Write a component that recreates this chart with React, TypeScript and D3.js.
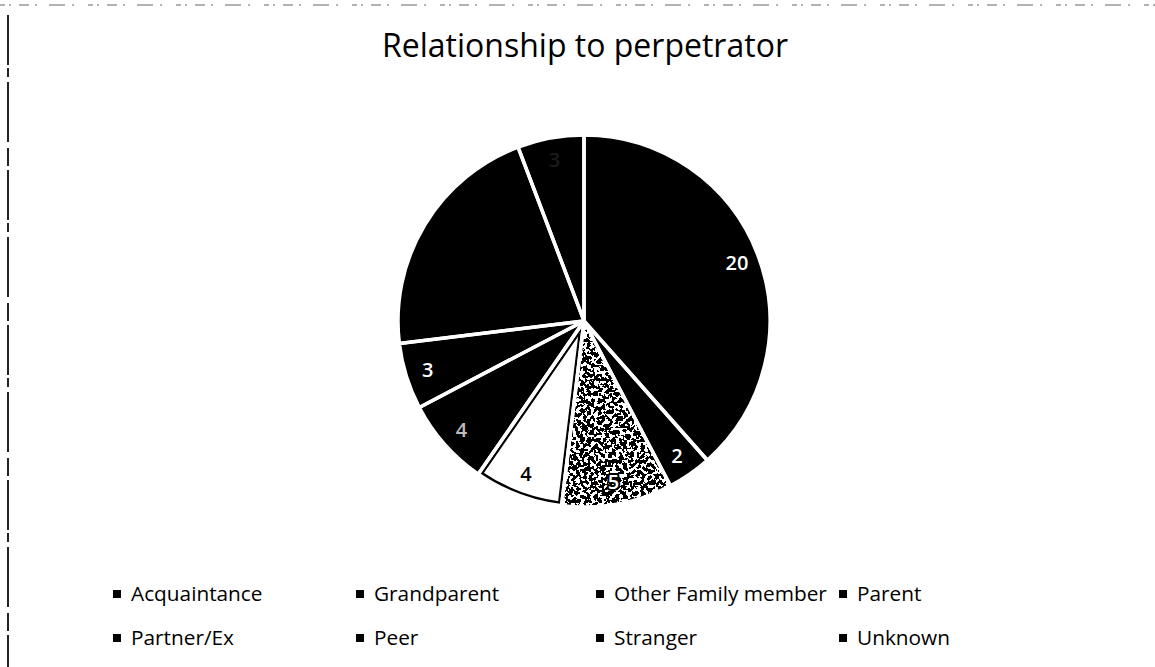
import React from "react";
import * as d3 from "d3";

const categories = [
  "Acquaintance",
  "Grandparent",
  "Other Family member",
  "Parent",
  "Partner/Ex",
  "Peer",
  "Stranger",
  "Unknown",
];
const counts = [20, 2, 5, 4, 4, 3, 11, 3];

// look of each slice in the scanned printout
const sliceFill = ["#000", "#000", "speckle", "white", "#000", "#000", "#000", "#000"];
const labelFill = ["#fff", "#fff", "#fff", "#000", "#bdbdbd", "#fff", "#000", "#1c1c1c"];

const W = 1155;
const H = 667;
const cx = 584;
const cy = 321;
const R = 186;
const font = "'Open Sans', 'Noto Sans', sans-serif";

export default function App() {
  const pie = d3
    .pie<number>()
    .value((d) => d)
    .sort(null);
  const slices = pie(counts);

  const arc = d3.arc<d3.PieArcDatum<number>>().innerRadius(0).outerRadius(R);
  const labelArc = d3
    .arc<d3.PieArcDatum<number>>()
    .innerRadius(R * 0.88)
    .outerRadius(R * 0.88);

  // legend: 4 columns, 2 rows
  const colX = d3.scaleOrdinal<number, number>().domain([0, 1, 2, 3]).range([117, 360, 600, 843]);
  const rowY = d3.scaleOrdinal<number, number>().domain([0, 1]).range([594, 638]);

  return (
    <svg
      width={W}
      height={H}
      style={{ position: "absolute", left: 0, top: 0, background: "#fff" }}
    >
      <defs>
        <filter id="speckle" x="0" y="0" width="100%" height="100%">
          <feTurbulence type="fractalNoise" baseFrequency="0.28" numOctaves="2" seed="7" result="noise" />
          <feColorMatrix
            in="noise"
            type="matrix"
            values="0 0 0 0 1  0 0 0 0 1  0 0 0 0 1  1.2 0 0 0 0"
            result="a"
          />
          <feComponentTransfer in="a" result="t">
            <feFuncA type="discrete" tableValues="0 0 0 0 0 1 1 1" />
          </feComponentTransfer>
          <feComposite in="t" in2="SourceGraphic" operator="in" />
        </filter>
        <clipPath id="parentClip">
          <path d={arc(slices[3]) || ""} transform={`translate(${cx},${cy})`} />
        </clipPath>
      </defs>

      {/* scan edges of the box */}
      <line x1={0} x2={W} y1={5} y2={5} stroke="#666" strokeWidth={1} strokeDasharray="5 4 2 8 10 6 2 12 16 7 2 14" />
      <line x1={8} x2={8} y1={15} y2={H} stroke="#222" strokeWidth={2} strokeDasharray="50 3 9 5 60 6 18 4" />

      <text
        x={585}
        y={57}
        textAnchor="middle"
        fontFamily={font}
        fontSize={32}
        fill="#000"
      >
        Relationship to perpetrator
      </text>

      <g transform={`translate(${cx},${cy})`}>
        {slices.map((s, i) => (
          <path key={"s" + i} d={arc(s) || ""} fill={sliceFill[i] === "speckle" ? "#000" : sliceFill[i]} />
        ))}
        {slices.map((s, i) =>
          sliceFill[i] === "speckle" ? (
            <path key={"sp" + i} d={arc(s) || ""} fill="#fff" filter="url(#speckle)" />
          ) : null
        )}
      </g>
      <g clipPath="url(#parentClip)">
        <path
          d={arc(slices[3]) || ""}
          transform={`translate(${cx},${cy})`}
          fill="none"
          stroke="#000"
          strokeWidth={8}
        />
      </g>
      <g transform={`translate(${cx},${cy})`}>
        {slices.map((s, i) => (
          <path key={"b" + i} d={arc(s) || ""} fill="none" stroke="#fff" strokeWidth={3.5} strokeLinejoin="round" />
        ))}
        {slices.map((s, i) => {
          const [lx, ly] = labelArc.centroid(s);
          const outlined = labelFill[i] === "#fff";
          return (
            <text
              key={"l" + i}
              x={lx}
              y={ly}
              dy="0.35em"
              textAnchor="middle"
              fontFamily={font}
              fontSize={20}
              fontWeight={600}
              fill={labelFill[i]}
              stroke={outlined ? "#000" : "none"}
              strokeWidth={outlined ? 4 : 0}
              strokeLinejoin="round"
              paintOrder="stroke"
            >
              {counts[i]}
            </text>
          );
        })}
      </g>

      {categories.map((c, i) => {
        const x = colX(i % 4);
        const y = rowY(Math.floor(i / 4));
        return (
          <g key={"lg" + i}>
            <rect x={x - 4} y={y - 4} width={8} height={8} fill="#000" />
            <text x={x + 14} y={y} dy="0.35em" fontFamily={font} fontSize={20.8} fill="#000">
              {c}
            </text>
          </g>
        );
      })}
    </svg>
  );
}
